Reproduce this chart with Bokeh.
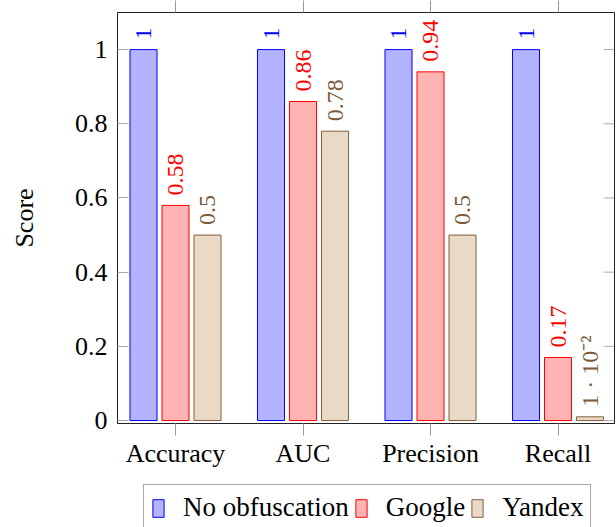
import numpy as np
from bokeh.plotting import figure
from bokeh.layouts import column
from bokeh.core.properties import value
from bokeh.models import (ColumnDataSource, Range1d, FixedTicker, LinearAxis,
                          Legend, LegendItem)
from bokeh.transform import dodge
from bokeh.embed import file_html
from bokeh.resources import INLINE

# ---- data ----
categories = ["Accuracy", "AUC", "Precision", "Recall"]
series_names = ["No obfuscation", "Google", "Yandex"]
no_obfuscation = [1.0, 1.0, 1.0, 1.0]
google = [0.58, 0.86, 0.94, 0.17]
yandex = [0.5, 0.78, 0.5, 0.01]
no_obfuscation_labels = ["1", "1", "1", "1"]
google_labels = ["0.58", "0.86", "0.94", "0.17"]
yandex_labels = ["0.5", "0.78", "0.5", "1 \u00b7 10\u207b\u00b2"]
y_ticks = [0, 0.2, 0.4, 0.6, 0.8, 1.0]
y_tick_labels = ["0", "0.2", "0.4", "0.6", "0.8", "1"]

FONT = "Liberation Serif"
fills = ["#b3b3ff", "#ffb3b3", "#ead9c5"]
lines = ["#0000ff", "#ff0000", "#7f5f3f"]
text_colors = ["#0000ff", "#ff0000", "#7a5a3a"]
offsets = [-0.251, 0.0, 0.251]
bar_w = 0.212
X_START, X_END = -0.455, 3.443

xs = list(range(len(categories)))
src = ColumnDataSource(dict(x=xs, s0=no_obfuscation, s1=google, s2=yandex,
                            l0=no_obfuscation_labels, l1=google_labels,
                            l2=yandex_labels))

p = figure(width=616, height=470, output_backend="svg", toolbar_location=None,
           x_range=Range1d(X_START, X_END), y_range=Range1d(-0.008, 1.1),
           min_border_left=117, min_border_right=2, min_border_top=12,
           min_border_bottom=46, x_axis_location=None, y_axis_location=None)
p.xgrid.visible = False
p.ygrid.visible = False
p.outline_line_color = "#222222"
p.outline_line_width = 1
p.background_fill_color = "white"

renderers = []
for i in range(3):
    r = p.vbar(x=dodge("x", offsets[i], range=p.x_range), top=f"s{i}", bottom=0,
               width=bar_w, source=src, fill_color=fills[i], line_color=lines[i],
               line_width=1)
    renderers.append(r)
    p.text(x=dodge("x", offsets[i], range=p.x_range), y=f"s{i}", text=f"l{i}",
           source=src, angle=np.pi / 2, text_align="left", text_baseline="middle",
           x_offset=0, y_offset=-10, text_color=text_colors[i],
           text_font=value(FONT), text_font_size="24px")

# inward ticks on the right edge of the frame
p.ray(x=[X_END] * len(y_ticks), y=y_ticks, length=11, length_units="screen",
      angle=np.pi, line_color="#aaaaaa", line_width=1)

# axes
xaxis = LinearAxis(ticker=FixedTicker(ticks=xs),
                   major_label_overrides={x: c for x, c in zip(xs, categories)})
xaxis.major_tick_out = 12
xaxis.major_tick_in = 0
xaxis.minor_tick_out = 0
xaxis.minor_tick_in = 0
xaxis.major_tick_line_color = "#999999"
xaxis.axis_line_color = "#222222"
xaxis.major_label_text_font = FONT
xaxis.major_label_text_font_size = "26px"
xaxis.major_label_text_color = "black"
xaxis.major_label_standoff = 3
p.add_layout(xaxis, "below")

top_axis = LinearAxis(ticker=FixedTicker(ticks=xs),
                      major_label_overrides={x: "" for x in xs})
top_axis.major_tick_out = 12
top_axis.major_tick_in = 0
top_axis.minor_tick_out = 0
top_axis.major_tick_line_color = "#999999"
top_axis.axis_line_color = None
top_axis.major_label_text_font_size = "1px"
top_axis.major_label_standoff = 0
p.add_layout(top_axis, "above")

yaxis = LinearAxis(ticker=FixedTicker(ticks=y_ticks),
                   major_label_overrides={t: s for t, s in zip(y_ticks, y_tick_labels)})
yaxis.major_tick_in = 11
yaxis.major_tick_out = 0
yaxis.minor_tick_in = 0
yaxis.minor_tick_out = 0
yaxis.major_tick_line_color = "#aaaaaa"
yaxis.axis_line_color = "#222222"
yaxis.major_label_text_font = FONT
yaxis.major_label_text_font_size = "26px"
yaxis.major_label_text_color = "black"
yaxis.major_label_standoff = 10
yaxis.axis_label = "Score"
yaxis.axis_label_text_font = FONT
yaxis.axis_label_text_font_size = "26px"
yaxis.axis_label_text_font_style = "normal"
yaxis.axis_label_text_color = "black"
yaxis.axis_label_standoff = 33
p.add_layout(yaxis, "left")

# ---- legend strip (separate figure under the chart) ----
p2 = figure(width=616, height=57, output_backend="svg", toolbar_location=None,
            x_range=Range1d(X_START, X_END), y_range=Range1d(10, 11),
            min_border_left=0, min_border_right=0, min_border_top=0,
            min_border_bottom=0, x_axis_location=None, y_axis_location=None)
p2.xgrid.visible = False
p2.ygrid.visible = False
p2.outline_line_color = None

leg_renderers = []
for i in range(3):
    r = p2.vbar(x=dodge("x", offsets[i], range=p2.x_range), top=f"s{i}", bottom=0,
                width=bar_w, source=src, fill_color=fills[i], line_color=lines[i],
                line_width=1)
    leg_renderers.append(r)

legend = Legend(items=[LegendItem(label=series_names[i], renderers=[leg_renderers[i]])
                       for i in range(3)],
                orientation="horizontal", location=(26, -4))
legend.label_text_font = FONT
legend.label_text_font_size = "27px"
legend.label_text_color = "black"
legend.glyph_width = 14
legend.glyph_height = 22
legend.label_standoff = 18
legend.spacing = 5
legend.padding = 7
legend.margin = 0
legend.border_line_color = "#555555"
legend.border_line_width = 1
legend.background_fill_alpha = 1
p2.add_layout(legend, "center")

layout = column(p, p2, spacing=0)
open("out.html", "w").write(file_html(layout, INLINE))
